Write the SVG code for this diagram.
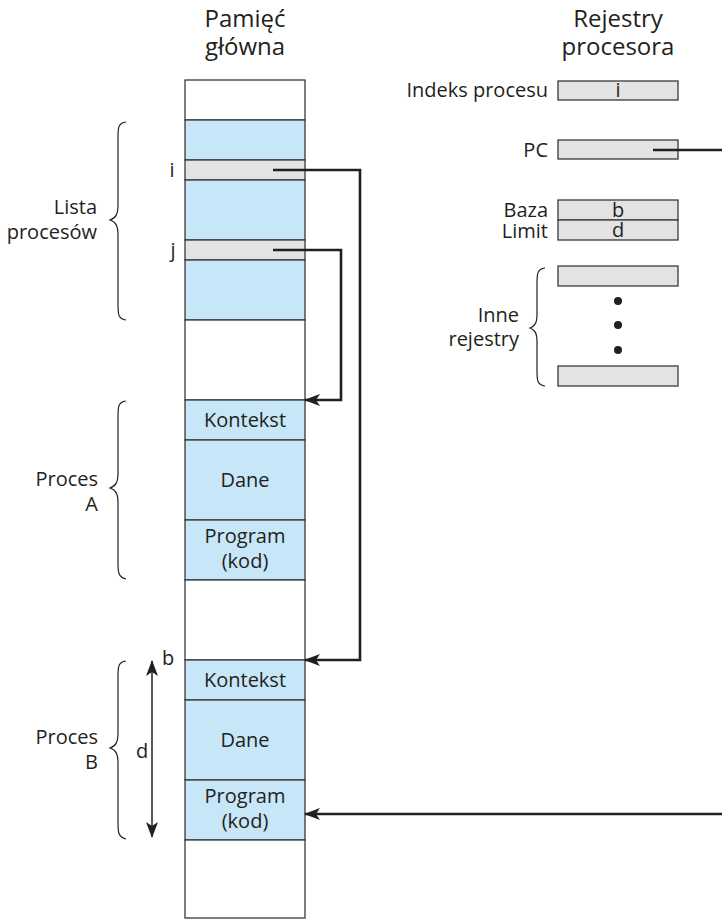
<svg xmlns="http://www.w3.org/2000/svg" width="722" height="919" viewBox="0 0 722 919">
<defs>
<style>
text{font-family:"Open Sans","Liberation Sans",sans-serif;font-size:20px;fill:#231f20}
.t{font-size:24px}
.c{text-anchor:middle}
.r{text-anchor:end}
.cell{stroke:#3a3a3a;stroke-width:1.3}
.blue{fill:#c7e6f7}
.gray{fill:#e3e3e4}
.white{fill:#fff}
.con{fill:none;stroke:#231f20;stroke-width:2.6}
.brace{fill:none;stroke:#231f20;stroke-width:1.2}
</style>
<marker id="ah" viewBox="0 0 16 12" refX="15" refY="6" markerWidth="16" markerHeight="12" markerUnits="userSpaceOnUse" orient="auto-start-reverse">
<path d="M0,0 L16,6 L0,12 L4,6 Z" fill="#231f20"/>
</marker>
</defs>
<rect width="722" height="919" fill="#fff"/>

<g id="title-memory">
<text class="c t" x="245" y="27">Pamięć</text>
<text class="c t" x="245" y="55">główna</text>
</g>
<g id="title-registers">
<text class="c t" x="618" y="27">Rejestry</text>
<text class="c t" x="618" y="55">procesora</text>
</g>

<g id="memory">
<rect class="cell white" x="185" y="80" width="120" height="40"/>
<rect class="cell blue" x="185" y="120" width="120" height="40"/>
<rect class="cell gray" x="185" y="160" width="120" height="20"/>
<rect class="cell blue" x="185" y="180" width="120" height="60"/>
<rect class="cell gray" x="185" y="240" width="120" height="20"/>
<rect class="cell blue" x="185" y="260" width="120" height="60"/>
<rect class="cell white" x="185" y="320" width="120" height="80"/>
<rect class="cell blue" x="185" y="400" width="120" height="40"/>
<rect class="cell blue" x="185" y="440" width="120" height="80"/>
<rect class="cell blue" x="185" y="520" width="120" height="60"/>
<rect class="cell white" x="185" y="580" width="120" height="80"/>
<rect class="cell blue" x="185" y="660" width="120" height="40"/>
<rect class="cell blue" x="185" y="700" width="120" height="80"/>
<rect class="cell blue" x="185" y="780" width="120" height="60"/>
<rect class="cell white" x="185" y="840" width="120" height="78"/>
<text class="c" x="245" y="427">Kontekst</text>
<text class="c" x="245" y="487">Dane</text>
<text class="c" x="245" y="543">Program</text>
<text class="c" x="245" y="568">(kod)</text>
<text class="c" x="245" y="687">Kontekst</text>
<text class="c" x="245" y="747">Dane</text>
<text class="c" x="245" y="803">Program</text>
<text class="c" x="245" y="828">(kod)</text>
<text class="c" x="172" y="177">i</text>
<text class="c" x="173" y="257">j</text>
</g>

<g id="lista-procesow">
<path class="brace" d="M126,122 C118,123 118,128 118,138 L118,205 C118,214 116,218 110,220 C116,222 118,226 118,235 L118,304 C118,314 118,319 126,320"/>
<text class="r" x="97" y="214">Lista</text>
<text class="r" x="97" y="239">procesów</text>
</g>

<g id="proces-a">
<path class="brace" d="M126,401 C118,402 118,407 118,417 L118,473 C118,482 116,486 110,488 C116,490 118,494 118,503 L118,562 C118,572 118,577 126,579"/>
<text class="r" x="98" y="486">Proces</text>
<text class="r" x="98" y="511">A</text>
</g>

<g id="proces-b">
<path class="brace" d="M126,661 C118,662 118,667 118,677 L118,733 C118,742 116,746 110,748 C116,750 118,754 118,763 L118,822 C118,832 118,837 126,839"/>
<text class="r" x="98" y="744">Proces</text>
<text class="r" x="98" y="769">B</text>
<text class="c" x="142" y="758">d</text>
<text class="c" x="168" y="665">b</text>
</g>

<g id="registers">
<text class="r" x="548" y="97">Indeks procesu</text>
<rect class="cell gray" x="558" y="81" width="120" height="19"/>
<text class="c" x="618" y="97">i</text>
<text class="r" x="548" y="157">PC</text>
<rect class="cell gray" x="558" y="140" width="120" height="19"/>
<text class="r" x="548" y="217">Baza</text>
<rect class="cell gray" x="558" y="200" width="120" height="20"/>
<text class="c" x="618" y="217">b</text>
<text class="r" x="548" y="238">Limit</text>
<rect class="cell gray" x="558" y="220" width="120" height="20"/>
<text class="c" x="618" y="237">d</text>
</g>

<g id="inne-rejestry">
<rect class="cell gray" x="558" y="266" width="120" height="20"/>
<circle cx="618" cy="301" r="4" fill="#231f20"/>
<circle cx="618" cy="325" r="4" fill="#231f20"/>
<circle cx="618" cy="350" r="4" fill="#231f20"/>
<rect class="cell gray" x="558" y="366" width="120" height="20"/>
<path class="brace" d="M545,268 C537,269 537,274 537,284 L537,314 C537,323 535,326 530,328 C535,330 537,333 537,342 L537,370 C537,380 537,385 545,386"/>
<text class="r" x="519" y="322">Inne</text>
<text class="r" x="519" y="346">rejestry</text>
</g>

<g id="connectors">
<polyline class="con" points="273,170 360,170 360,660 305,660" marker-end="url(#ah)"/>
<polyline class="con" points="273,250 341,250 341,400 305,400" marker-end="url(#ah)"/>
<line class="con" x1="653" y1="150" x2="722" y2="150"/>
<line class="con" x1="722" y1="814" x2="305" y2="814" marker-end="url(#ah)"/>
<line x1="152" y1="661" x2="152" y2="837" stroke="#231f20" stroke-width="1.5" marker-start="url(#ah)" marker-end="url(#ah)"/>
</g>
</svg>
